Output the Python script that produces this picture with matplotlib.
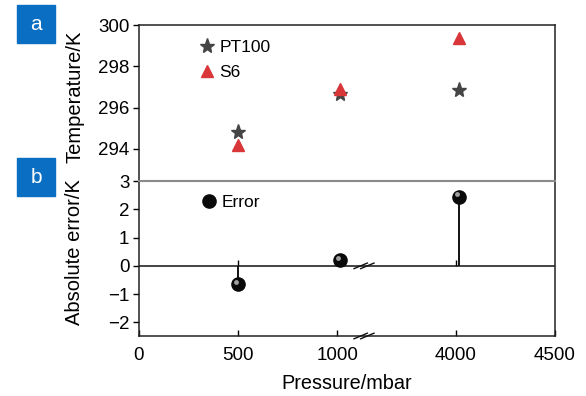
import matplotlib
matplotlib.use("Agg")
import matplotlib.pyplot as plt
import matplotlib.transforms as mtransforms
import numpy as np

plt.rcParams['font.family'] = ['Liberation Sans', 'DejaVu Sans']
plt.rcParams['axes.unicode_minus'] = True

# data
pressure = [500, 1015, 4015]
pt100 = [294.82, 296.65, 296.85]
s6 = [294.2, 296.9, 299.37]
error = [-0.65, 0.2, 2.45]

tick_vals = [0, 500, 1000, 4000, 4500]
temp_ticks = [294, 296, 298, 300]
err_ticks = [-2, -1, 0, 1, 2, 3]


def brk(x):
    # broken x axis: 1000..4000 squeezed out
    x = np.asarray(x, dtype=float)
    return np.where(x > 2000, x - 2400, x)


fig = plt.figure(figsize=(5.86, 3.96), dpi=100)
L, W = 139 / 586, 416 / 586
ax_a = fig.add_axes([L, 1 - 181 / 396, W, 156 / 396])
ax_b = fig.add_axes([L, 1 - 336 / 396, W, 155 / 396])

xt = brk(tick_vals)
for ax in (ax_a, ax_b):
    ax.set_xlim(xt[0], xt[-1])
    for s in ax.spines.values():
        s.set_linewidth(1.1)
        s.set_color('#222222')
    ax.tick_params(axis='y', direction='out', length=4, width=1, labelsize=13.5, pad=3)
    ax.tick_params(axis='x', direction='in', length=4, width=1, labelsize=13.5, pad=8)

# upper panel
ax_a.plot(brk(pressure), pt100, ls='none', marker='*', ms=11, color='#444444', mec='#444444',
          label='PT100')
ax_a.plot(brk(pressure), s6, ls='none', marker='^', ms=9, color='#d9363a', mec='#d9363a',
          label='S6')
ax_a.set_ylim(292.45, 300)
ax_a.set_yticks(temp_ticks)
ax_a.set_xticks([])
ax_a.spines['bottom'].set_visible(False)
ax_a.legend(loc='upper left', bbox_to_anchor=(0.11, 0.985), frameon=False, fontsize=12.5,
            handletextpad=0.1, labelspacing=0.6, handlelength=1.2, borderaxespad=0.3)

# lower panel
ax_b.set_ylim(-2.48, 3)
ax_b.set_yticks(err_ticks)
ax_b.set_xticks(xt)
ax_b.set_xticklabels([str(v) for v in tick_vals])
ax_b.spines['top'].set_color('#8a8a8a')
ax_b.spines['top'].set_linewidth(1.5)
ax_b.axhline(0, color='#111111', lw=1.1, zorder=2)
zpos = (0 - ax_b.get_ylim()[0]) / (ax_b.get_ylim()[1] - ax_b.get_ylim()[0])
sec = ax_b.secondary_xaxis(zpos)
sec.set_xticks(brk([500, 1000, 4000]))
sec.tick_params(direction='in', length=4, width=1, labelbottom=False, labeltop=False)
sec.spines['bottom'].set_visible(False)
sec.spines['top'].set_visible(False)

ax_b.vlines(brk(pressure), 0, error, color='#111111', lw=1.4, zorder=3)
ax_b.plot(brk(pressure), error, ls='none', marker='o', ms=9.5, color='#0a0a0a', zorder=4,
          label='Error')
hl = mtransforms.offset_copy(ax_b.transData, fig=fig, x=-1.5, y=1.5, units='points')
ax_b.plot(brk(pressure), error, ls='none', marker='o', ms=3.5, color='#a0a0a0', mec='none',
          transform=hl, zorder=5)
ax_b.legend(loc='upper left', bbox_to_anchor=(0.11, 1.0), frameon=False, fontsize=12.5,
            handletextpad=0.1, handlelength=1.2, borderaxespad=0.4)

# break marks
bx = (364 - 139) / 416
for yy in (0, zpos):
    for dx in (-0.008, 0.008):
        ax_b.plot([bx + dx - 0.016, bx + dx + 0.016], [yy - 0.018, yy + 0.018],
                  transform=ax_b.transAxes, color='#111111', lw=1, clip_on=False, zorder=6)

ax_b.set_xlabel('Pressure/mbar', fontsize=14.3, labelpad=7)
fig.text(75 / 586, 1 - 97 / 396, 'Temperature/K', rotation=90, fontsize=14.5,
         ha='center', va='center')
fig.text(75 / 586, 1 - 252 / 396, 'Absolute error/K', rotation=90, fontsize=14.5,
         ha='center', va='center')

# panel tags
for lab, y0 in (('a', 5), ('b', 158)):
    fig.patches.append(plt.Rectangle((17 / 586, 1 - (y0 + 38) / 396), 38 / 586, 38 / 396,
                                     transform=fig.transFigure, color='#0a6fc2', zorder=0))
    fig.text(36 / 586, 1 - (y0 + 19) / 396, lab, color='white', fontsize=15,
             ha='center', va='center')

fig.savefig('out.png', dpi=100)
